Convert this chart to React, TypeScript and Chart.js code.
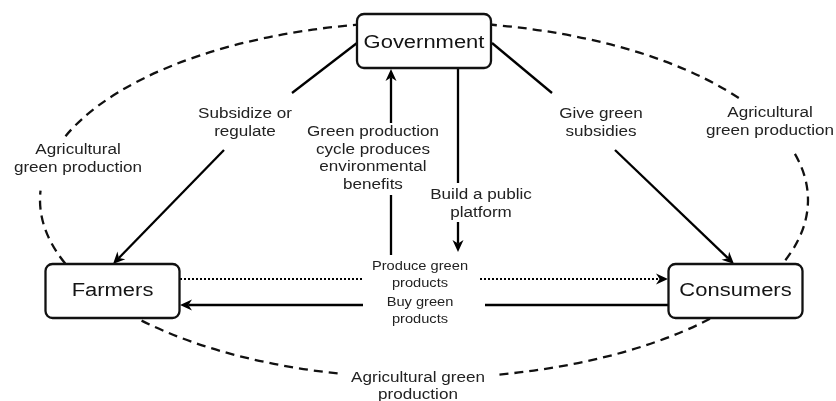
import React, { useEffect, useRef } from "react";
import { Chart, registerables } from "chart.js";

Chart.register(...registerables);

// ---- Nodes ----
const nodeNames = ["Government", "Farmers", "Consumers"];
const nodeX = [424, 112.5, 735.5];
const nodeY = [41, 291, 291];
const nodeTextY = [43.5, 291, 291];

// ---- Edge segments: [x1, y1, x2, y2] with style and arrow flag ----
const segFrom = [
  [357, 43], [224, 150],
  [492, 43], [615, 150],
  [391, 255], [391, 123],
  [458, 68], [458, 222],
  [180, 279], [480, 279],
  [668, 305], [363, 305],
];
const segTo = [
  [292, 93], [113, 264],
  [552, 93], [734, 264],
  [391, 195], [391, 69],
  [458, 183], [458, 252],
  [362, 279], [668, 279],
  [485, 305], [180, 305],
];
const segDotted = [false, false, false, false, false, false, false, false, true, true, false, false];
const segArrow = [false, true, false, true, false, true, false, true, false, true, false, true];

// ---- Edge labels ----
const edgeLabels = [
  ["Subsidize or", "regulate"],
  ["Give green", "subsidies"],
  ["Green production", "cycle produces", "environmental", "benefits"],
  ["Build a public", "platform"],
  ["Produce green", "products"],
  ["Buy green", "products"],
];
const edgeLabelX = [245, 601, 373, 481, 420, 420];
const edgeLabelY = [114, 114, 132, 195, 267, 303];
const edgeLabelLH = [18, 18, 17.7, 18, 16.5, 17];
const edgeLabelSize = [14, 14, 14, 14, 12, 12];

// ---- Outer ring (dashed ellipse) ----
const ringCenter = [424, 200];
const ringRadius = [384, 178];
const ringArcs = [
  [345, 439],
  [103, 183],
  [201, 326],
];
const ringLabels = [
  ["Agricultural", "green production"],
  ["Agricultural", "green production"],
  ["Agricultural green", "production"],
];
const ringLabelX = [78, 770, 418];
const ringLabelY = [150, 113, 378];
const ringLabelLH = [18, 18.5, 17];

const FONT = '"Liberation Sans", Arial, Helvetica, sans-serif';
const STRETCH = 1.22;

function drawText(ctx: CanvasRenderingContext2D, text: string, x: number, y: number, size: number, color: string) {
  ctx.save();
  ctx.font = `${size}px ${FONT}`;
  ctx.fillStyle = color;
  ctx.textAlign = "center";
  ctx.textBaseline = "middle";
  ctx.translate(x, y);
  ctx.scale(STRETCH, 1);
  ctx.fillText(text, 0, 0);
  ctx.restore();
}

function roundRect(ctx: CanvasRenderingContext2D, x: number, y: number, w: number, h: number, r: number) {
  ctx.beginPath();
  ctx.moveTo(x + r, y);
  ctx.lineTo(x + w - r, y);
  ctx.arcTo(x + w, y, x + w, y + r, r);
  ctx.lineTo(x + w, y + h - r);
  ctx.arcTo(x + w, y + h, x + w - r, y + h, r);
  ctx.lineTo(x + r, y + h);
  ctx.arcTo(x, y + h, x, y + h - r, r);
  ctx.lineTo(x, y + r);
  ctx.arcTo(x, y, x + r, y, r);
  ctx.closePath();
}

const diagramPlugin = {
  id: "diagram",
  afterDraw(chart: any) {
    const ctx: CanvasRenderingContext2D = chart.ctx;
    const xs = chart.scales.x;
    const ys = chart.scales.y;
    const px = (v: number) => xs.getPixelForValue(v);
    const py = (v: number) => ys.getPixelForValue(v);

    ctx.save();
    ctx.fillStyle = "#ffffff";
    ctx.fillRect(0, 0, chart.width, chart.height);

    // dashed ring
    const cx = px(ringCenter[0]);
    const cy = py(ringCenter[1]);
    const rx = Math.abs(px(ringCenter[0] + ringRadius[0]) - cx);
    const ry = Math.abs(py(ringCenter[1] + ringRadius[1]) - cy);
    ctx.strokeStyle = "#111";
    ctx.lineWidth = 2.3;
    ctx.setLineDash([9, 6]);
    ringArcs.forEach(([a, b]) => {
      ctx.beginPath();
      ctx.ellipse(cx, cy, rx, ry, 0, (a * Math.PI) / 180, (b * Math.PI) / 180, false);
      ctx.stroke();
    });
    ctx.setLineDash([]);

    // edges
    segFrom.forEach((f, i) => {
      const x1 = px(f[0]);
      const y1 = py(f[1]);
      const x2 = px(segTo[i][0]);
      const y2 = py(segTo[i][1]);
      const ang = Math.atan2(y2 - y1, x2 - x1);
      const L = 12;
      const W = 5.5;
      let ex = x2;
      let ey = y2;
      if (segArrow[i]) {
        ex = x2 - Math.cos(ang) * L * 0.7;
        ey = y2 - Math.sin(ang) * L * 0.7;
      }
      ctx.strokeStyle = "#000";
      ctx.lineWidth = segDotted[i] ? 2 : 2.3;
      ctx.setLineDash(segDotted[i] ? [2, 2] : []);
      ctx.beginPath();
      ctx.moveTo(x1, y1);
      ctx.lineTo(ex, ey);
      ctx.stroke();
      ctx.setLineDash([]);
      if (segArrow[i]) {
        const c = Math.cos(ang);
        const s = Math.sin(ang);
        ctx.fillStyle = "#000";
        ctx.beginPath();
        ctx.moveTo(x2, y2);
        ctx.lineTo(x2 - c * L - s * W, y2 - s * L + c * W);
        ctx.lineTo(x2 - c * L * 0.7, y2 - s * L * 0.7);
        ctx.lineTo(x2 - c * L + s * W, y2 - s * L - c * W);
        ctx.closePath();
        ctx.fill();
      }
    });

    // nodes
    nodeNames.forEach((name, i) => {
      const x = px(nodeX[i]);
      const y = py(nodeY[i]);
      const w = 134;
      const h = 54;
      roundRect(ctx, x - w / 2, y - h / 2, w, h, 7);
      ctx.fillStyle = "#fff";
      ctx.fill();
      ctx.strokeStyle = "#111";
      ctx.lineWidth = 2.3;
      ctx.stroke();
      drawText(ctx, name, x, py(nodeTextY[i]), 18, "#141414");
    });

    // edge labels
    edgeLabels.forEach((lines, i) => {
      lines.forEach((t, j) => {
        drawText(ctx, t, px(edgeLabelX[i]), py(edgeLabelY[i] + j * edgeLabelLH[i]), edgeLabelSize[i], "#222");
      });
    });

    // ring labels
    ringLabels.forEach((lines, i) => {
      lines.forEach((t, j) => {
        drawText(ctx, t, px(ringLabelX[i]), py(ringLabelY[i] + j * ringLabelLH[i]), 14, "#222");
      });
    });

    ctx.restore();
  },
};

export default function App() {
  const ref = useRef<HTMLCanvasElement | null>(null);
  useEffect(() => {
    if (!ref.current) return;
    const chart = new Chart(ref.current, {
      type: "scatter",
      data: {
        datasets: [
          {
            label: "nodes",
            data: nodeX.map((x, i) => ({ x, y: nodeY[i] })),
            pointRadius: 0,
            pointHoverRadius: 0,
          },
        ],
      },
      options: {
        animation: false,
        responsive: true,
        maintainAspectRatio: false,
        layout: { padding: 0 },
        events: [],
        plugins: {
          legend: { display: false },
          tooltip: { enabled: false },
        },
        scales: {
          x: { type: "linear", min: 0, max: 836, display: false },
          y: { type: "linear", min: 0, max: 401, reverse: true, display: false },
        },
      },
      plugins: [diagramPlugin],
    });
    return () => chart.destroy();
  }, []);
  return (
    <div style={{ position: "fixed", left: 0, top: 0, width: 836, height: 401, background: "#fff" }}>
      <canvas ref={ref} />
    </div>
  );
}
